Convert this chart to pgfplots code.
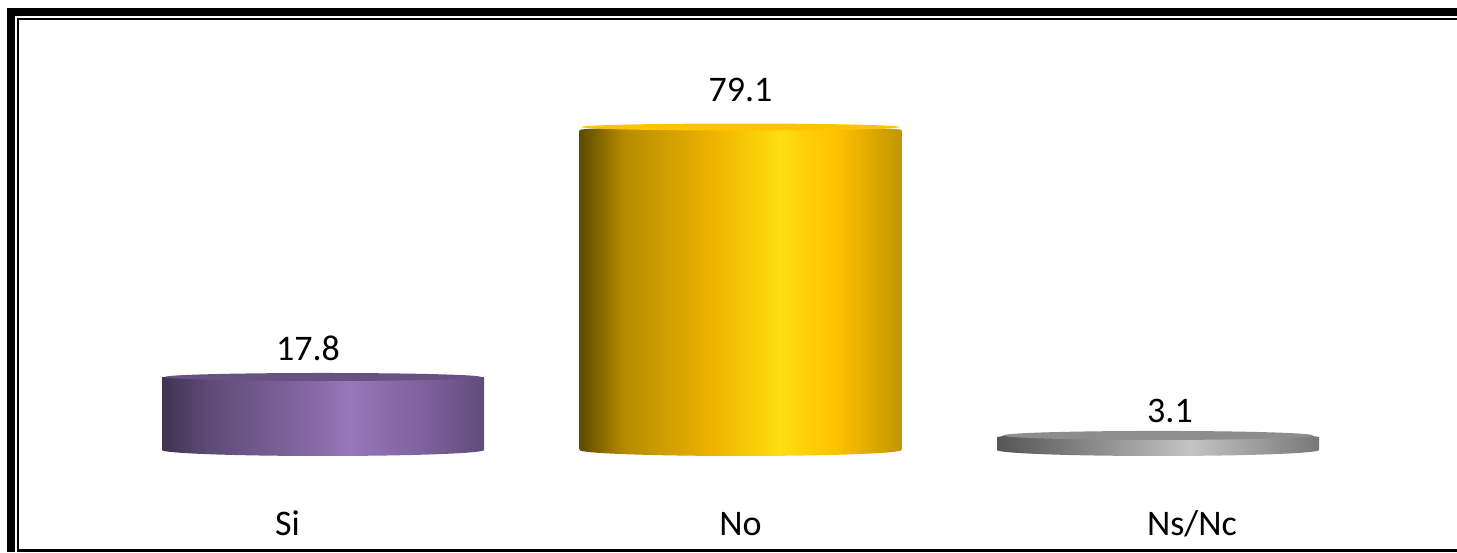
\documentclass[border=0pt]{standalone}
\usepackage{pgfplots}
\usetikzlibrary{shapes.geometric}
\pgfplotsset{compat=1.18}
\usepackage{fontspec}
\setmainfont{Carlito}
\definecolor{pA}{HTML}{3F3350}\definecolor{pB}{HTML}{5D4A75}\definecolor{pC}{HTML}{8A6CAB}\definecolor{pD}{HTML}{9877B8}\definecolor{pE}{HTML}{8062A0}\definecolor{pF}{HTML}{5F4B7A}
\definecolor{yA}{HTML}{5F4A00}\definecolor{yB}{HTML}{B58C00}\definecolor{yC}{HTML}{F0B400}\definecolor{yD}{HTML}{FFDD11}\definecolor{yE}{HTML}{FFC000}\definecolor{yF}{HTML}{C09500}
\definecolor{gA}{HTML}{555555}\definecolor{gB}{HTML}{8A8A8A}\definecolor{gC}{HTML}{C4C4C4}\definecolor{gD}{HTML}{777777}
\pgfdeclarehorizontalshading{sideP}{100bp}{color(0bp)=(pA);color(25bp)=(pA);color(32bp)=(pB);color(50bp)=(pC);color(54bp)=(pD);color(65bp)=(pE);color(75bp)=(pF);color(100bp)=(pF)}
\pgfdeclarehorizontalshading{sideY}{100bp}{color(0bp)=(yA);color(25bp)=(yA);color(32bp)=(yB);color(46bp)=(yC);color(56bp)=(yD);color(65bp)=(yE);color(75bp)=(yF);color(100bp)=(yF)}
\pgfdeclarehorizontalshading{sideG}{100bp}{color(0bp)=(gA);color(25bp)=(gA);color(40bp)=(gB);color(55bp)=(gC);color(75bp)=(gD);color(100bp)=(gD)}
\newcommand{\biglabel}{\fontsize{36}{43}\selectfont}
\pgfplotsset{
  disc/.style n args={4}{only marks,mark=none,draw=none,
    nodes near coords={},
    nodes near coords style={shape=ellipse,inner sep=0pt,outer sep=0pt,anchor=center,
      minimum width=#1,minimum height=#2,yshift=#3,#4}},
  val/.style={nodes near coords={\pgfmathprintnumber[fixed,precision=1,fixed zerofill,assume math mode=true]{\pgfplotspointmeta}},
    nodes near coords style={font=\biglabel,anchor=south,#1}},
}
\begin{document}
\begin{tikzpicture}[x=1pt,y=1pt]
\useasboundingbox (0,0) rectangle (1457,552);
\fill[white] (0,0) rectangle (1457,552);
\begin{axis}[
  at={(0,0)},anchor=south west,scale only axis,
  width=1457pt,height=552pt,
  xmin=-0.7737,xmax=2.7162,ymin=-25.22,ymax=111.25,
  axis line style={draw=none},
  major tick length=0pt,
  ytick=\empty,
  xtick={-0.085,1,2.0814},
  xticklabels={Si,No,Ns/Nc},
  x tick label style={anchor=north,yshift=27pt,font=\biglabel,text height=0.66em,text depth=0.1em},
]
% purple
\addplot[disc={322pt}{12pt}{0pt}{shading=sideP}] coordinates {(0,0)};
\addplot[ybar,bar width=322pt,bar shift=0pt,draw=none,shading=sideP,val={xshift=-15pt,yshift=14pt}] coordinates {(0,17.8)};
\addplot[disc={322pt}{8pt}{-1pt}{shading=sideP}] coordinates {(0,17.8)};
\addplot[disc={316pt}{8pt}{1pt}{fill=pF!85!pD}] coordinates {(0,17.8)};
% yellow
\addplot[disc={322pt}{12pt}{0pt}{shading=sideY}] coordinates {(1,0)};
\addplot[ybar,bar width=322pt,bar shift=0pt,draw=none,shading=sideY,val={yshift=25pt}] coordinates {(1,79.1)};
\addplot[disc={322pt}{7pt}{0pt}{shading=sideY}] coordinates {(1,79.1)};
\addplot[disc={318pt}{7pt}{3pt}{fill=yE!90!yD}] coordinates {(1,79.1)};
% grey
\addplot[disc={322pt}{12pt}{0pt}{shading=sideG}] coordinates {(2,0)};
\addplot[ybar,bar width=322pt,bar shift=0pt,draw=none,shading=sideG,val={xshift=12pt,yshift=11.5pt}] coordinates {(2,3.1)};
\addplot[disc={322pt}{10pt}{0pt}{shading=sideG}] coordinates {(2,3.1)};
\addplot[disc={310pt}{9pt}{2pt}{fill=gB!95!gC}] coordinates {(2,3.1)};
\end{axis}
% frame
\fill[black] (7,0) rectangle (15,544);
\fill[black] (7,536) rectangle (1457,544);
\fill[black] (17,0) rectangle (19,534);
\fill[black] (17,532) rectangle (1457,534);
\fill[black] (17,0) rectangle (1457,3.5);
\end{tikzpicture}
\end{document}
